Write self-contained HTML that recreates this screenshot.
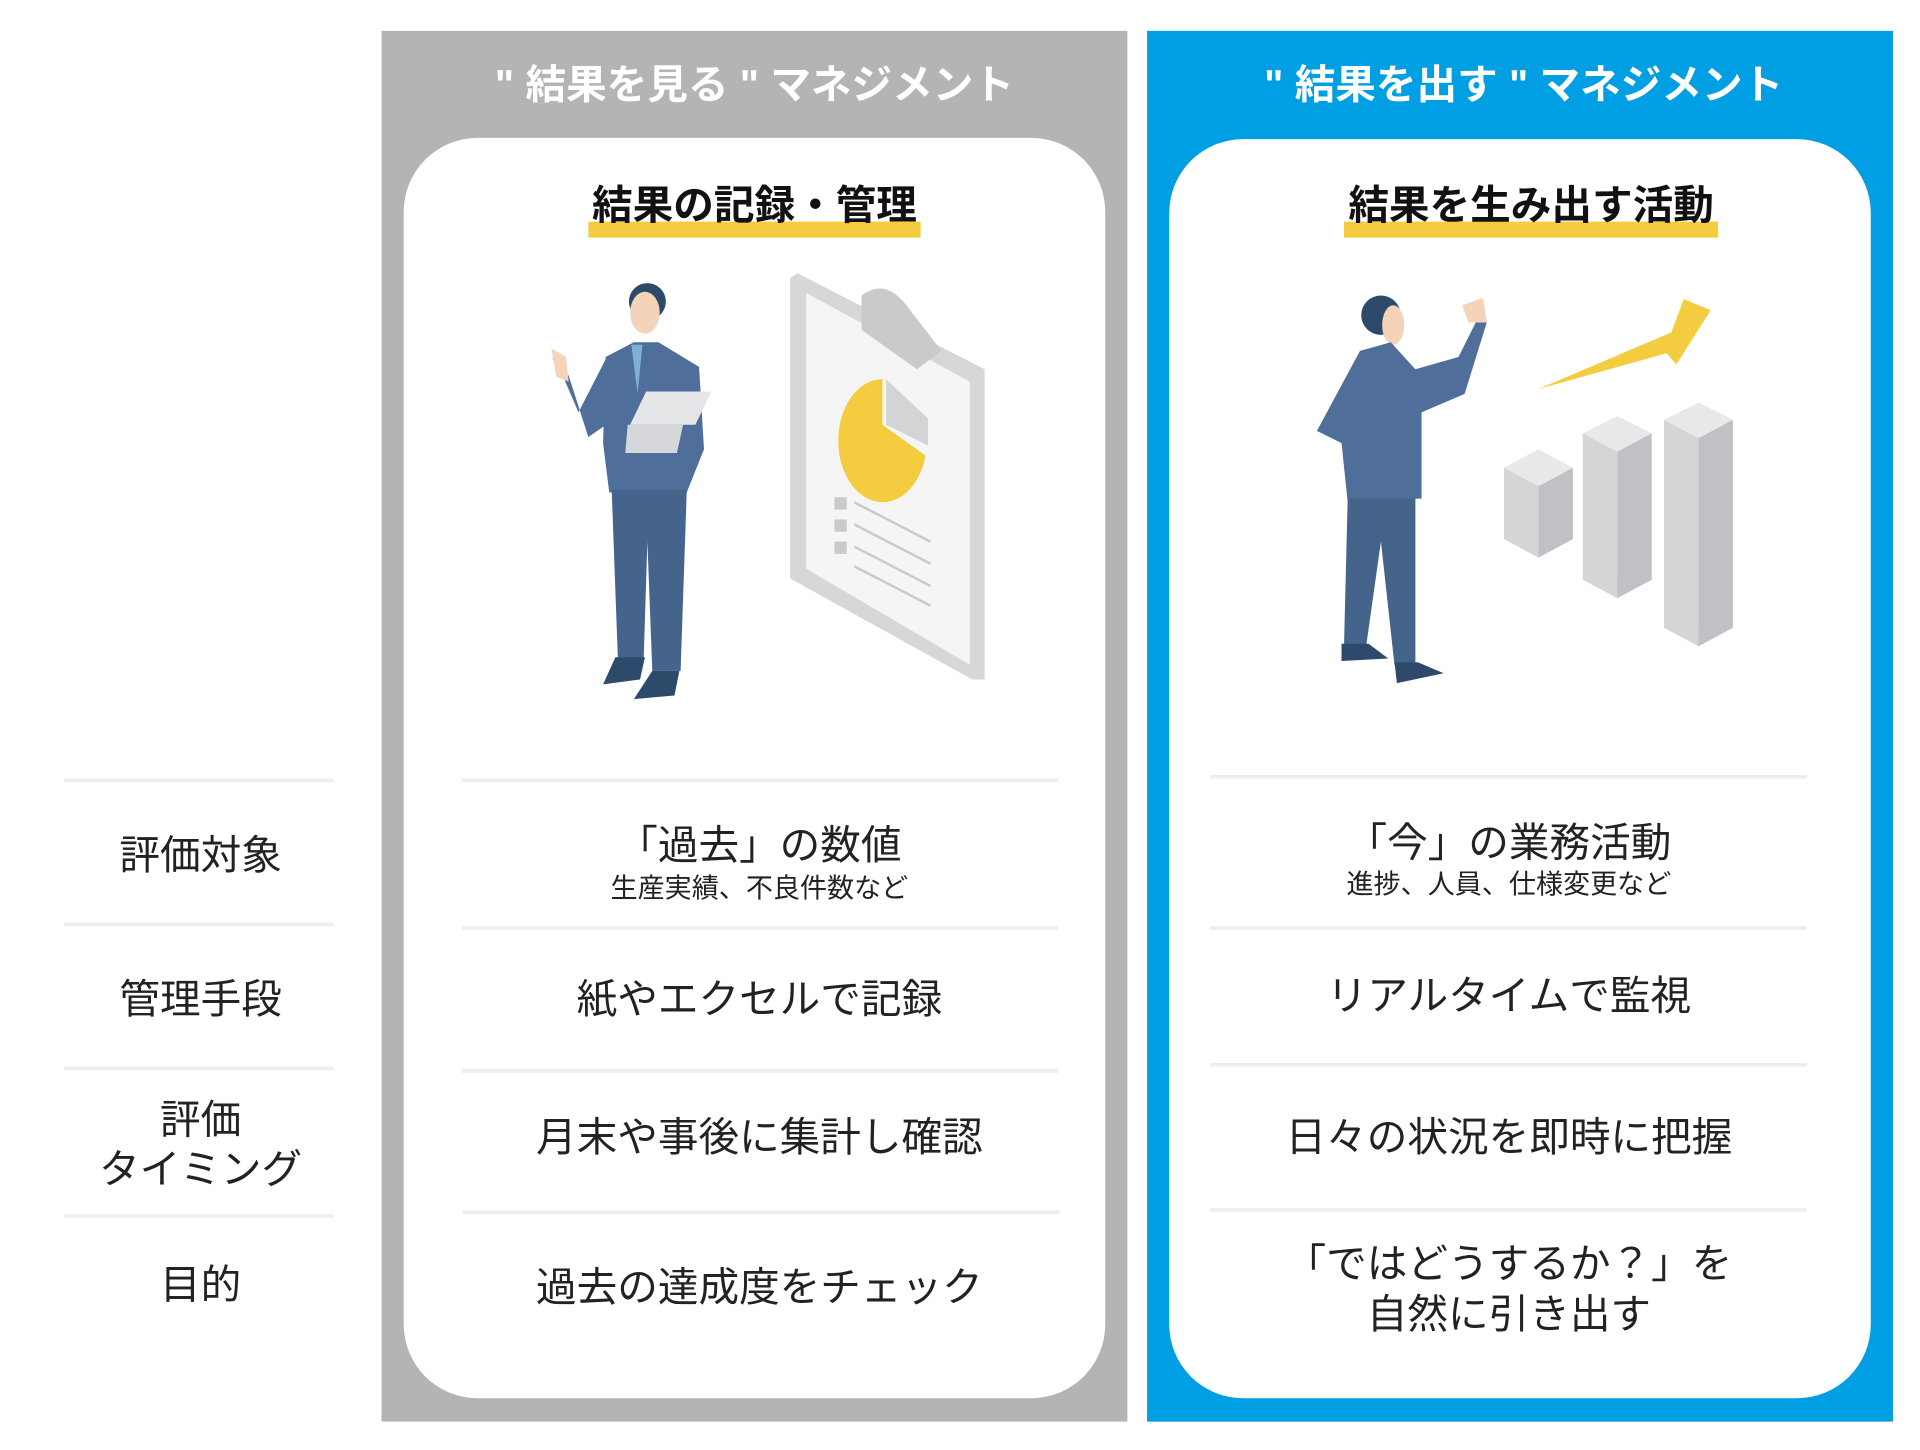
<!DOCTYPE html>
<html><head><meta charset="utf-8"><style>
html,body{margin:0;padding:0;background:#fff;width:1920px;height:1450px;overflow:hidden}
svg{display:block}
text{font-family:"Liberation Sans","Noto Sans CJK JP",sans-serif}
</style></head><body>
<svg width="1920" height="1450" viewBox="0 0 1560 1178" xmlns="http://www.w3.org/2000/svg">
<rect x="310" y="25" width="606" height="1130" fill="#b4b4b4"/>
<rect x="932" y="25" width="606" height="1130" fill="#009fe3"/>
<rect x="328" y="112" width="570" height="1024" rx="60" fill="#fff"/>
<rect x="950" y="113" width="570" height="1023" rx="60" fill="#fff"/>
<text x="613" y="80" font-size="33" font-weight="bold" fill="#fff" text-anchor="middle">" 結果を見る " マネジメント</text>
<text x="1238" y="80" font-size="33" font-weight="bold" fill="#fff" text-anchor="middle">" 結果を出す " マネジメント</text>
<rect x="478" y="180" width="270" height="13" fill="#f3cd3f"/>
<rect x="1092" y="180" width="304" height="13" fill="#f3cd3f"/>
<text x="613" y="178" font-size="33" font-weight="bold" fill="#111" text-anchor="middle">結果の記録・管理</text>
<text x="1244" y="178" font-size="33" font-weight="bold" fill="#111" text-anchor="middle">結果を生み出す活動</text>
<!-- left man -->
<g>
<circle cx="526" cy="245" r="15" fill="#2e4a6b"/>
<ellipse cx="524" cy="254" rx="12" ry="17" fill="#f5d3b8"/>
<path d="M492 290 L515 278 L535 278 L568 298 L572 365 L558 400 L495 400 L490 360 Z" fill="#4f6f9a"/>
<path d="M513 280 L522 280 L518 320 Z" fill="#7fb1d8"/>
<path d="M492 292 L470 335 L455 300 L448 290 L462 305 L478 355 L500 340 Z" fill="#4f6f9a"/>
<path d="M448 283 L460 290 L462 310 L452 306 Z" fill="#f5d3b8"/>
<path d="M525 318 L578 318 L565 345 L512 345 Z" fill="#e5e6e8"/>
<path d="M510 345 L555 345 L550 368 L508 368 Z" fill="#d5d7da"/>
<path d="M497 398 L558 398 L553 545 L530 545 L526 440 L523 535 L502 535 Z" fill="#44648c"/>
<path d="M500 534 L524 534 L520 552 L490 556 Z" fill="#2e4a6b"/>
<path d="M530 545 L552 545 L548 565 L515 568 Z" fill="#2e4a6b"/>
</g>
<!-- clipboard -->
<path d="M648 222 L800 300 L800 552 L790 552 L642 470 L642 226 Z" fill="#d6d7d9"/>
<path d="M655 238 L788 310 L788 540 L655 462 Z" fill="#f5f5f6"/>
<path d="M700 240 Q720 225 738 250 L765 285 L745 300 L700 268 Z" fill="#c9cacc"/>
<path d="M717 308 A36 50 0 1 0 752 370 L717 345 Z" fill="#f3cd3f"/>
<path d="M720 308 L754 340 L754 362 L720 345 Z" fill="#d3d4d6"/>
<g fill="#c9cacc"><rect x="678" y="404" width="10" height="10"/><rect x="678" y="422" width="10" height="10"/><rect x="678" y="440" width="10" height="10"/></g>
<g stroke="#c9cacc" stroke-width="2"><line x1="694" y1="408" x2="756" y2="440"/><line x1="694" y1="426" x2="756" y2="458"/><line x1="694" y1="444" x2="756" y2="476"/><line x1="694" y1="460" x2="756" y2="492"/></g>
<!-- right man -->
<g>
<circle cx="1122" cy="256" r="16" fill="#2e4a6b"/>
<ellipse cx="1132" cy="264" rx="9" ry="16" fill="#f5d3b8"/>
<path d="M1105 285 L1130 278 L1150 300 L1185 290 L1200 260 L1208 262 L1190 320 L1155 335 L1155 405 L1095 408 L1090 360 L1070 350 Z" fill="#4f6f9a"/>
<path d="M1188 248 L1205 242 L1208 262 L1193 262 Z" fill="#f5d3b8"/>
<path d="M1095 405 L1150 405 L1150 540 L1133 540 L1122 440 L1110 525 L1092 525 Z" fill="#44648c"/>
<path d="M1090 523 L1112 523 L1128 535 L1090 537 Z" fill="#2e4a6b"/>
<path d="M1133 538 L1152 538 L1173 547 L1135 555 Z" fill="#2e4a6b"/>
</g>
<!-- arrow -->
<path d="M1250 316 L1358 270 L1368 243 L1390 252 L1362 296 L1354 287 Z" fill="#f3cd3f"/>
<!-- bars -->
<path d="M1222 380 L1250 365 L1278 380 L1250 395 Z" fill="#e8e8e9"/><path d="M1222 380 L1250 395 L1250 453 L1222 438 Z" fill="#d4d5d7"/><path d="M1250 395 L1278 380 L1278 438 L1250 453 Z" fill="#bfc1c4"/>
<path d="M1286 352 L1314 338 L1342 352 L1314 367 Z" fill="#e8e8e9"/><path d="M1286 352 L1314 367 L1314 486 L1286 471 Z" fill="#d4d5d7"/><path d="M1314 367 L1342 352 L1342 471 L1314 486 Z" fill="#bfc1c4"/>
<path d="M1352 341 L1380 327 L1408 341 L1380 356 Z" fill="#e8e8e9"/><path d="M1352 341 L1380 356 L1380 525 L1352 510 Z" fill="#d4d5d7"/><path d="M1380 356 L1408 341 L1408 510 L1380 525 Z" fill="#bfc1c4"/>
<!-- lines -->
<g stroke="#eeeeee" stroke-width="3">
<line x1="52" y1="634" x2="271" y2="634"/><line x1="52" y1="751" x2="271" y2="751"/><line x1="52" y1="868" x2="271" y2="868"/><line x1="52" y1="988" x2="271" y2="988"/>
<line x1="375" y1="634" x2="860" y2="634"/><line x1="375" y1="754" x2="860" y2="754"/><line x1="375" y1="870" x2="860" y2="870"/><line x1="376" y1="985" x2="861" y2="985"/>
<line x1="983" y1="631" x2="1468" y2="631"/><line x1="983" y1="754" x2="1468" y2="754"/><line x1="983" y1="865" x2="1468" y2="865"/><line x1="983" y1="983" x2="1468" y2="983"/>
</g>
<g font-size="33" fill="#222" text-anchor="middle">
<text x="163" y="706">評価対象</text>
<text x="163" y="823">管理手段</text>
<text x="163" y="921">評価</text>
<text x="163" y="961">タイミング</text>
<text x="163" y="1055">目的</text>
<text x="617" y="698">「過去」の数値</text>
<text x="617" y="823">紙やエクセルで記録</text>
<text x="617" y="935">月末や事後に集計し確認</text>
<text x="617" y="1057">過去の達成度をチェック</text>
<text x="1226" y="696">「今」の業務活動</text>
<text x="1226" y="820">リアルタイムで監視</text>
<text x="1226" y="935">日々の状況を即時に把握</text>
<text x="1226" y="1038">「ではどうするか？」を</text>
<text x="1226" y="1079">自然に引き出す</text>
</g>
<g font-size="22" fill="#222" text-anchor="middle">
<text x="617" y="729">生産実績、不良件数など</text>
<text x="1226" y="726">進捗、人員、仕様変更など</text>
</g>
</svg>
</body></html>
